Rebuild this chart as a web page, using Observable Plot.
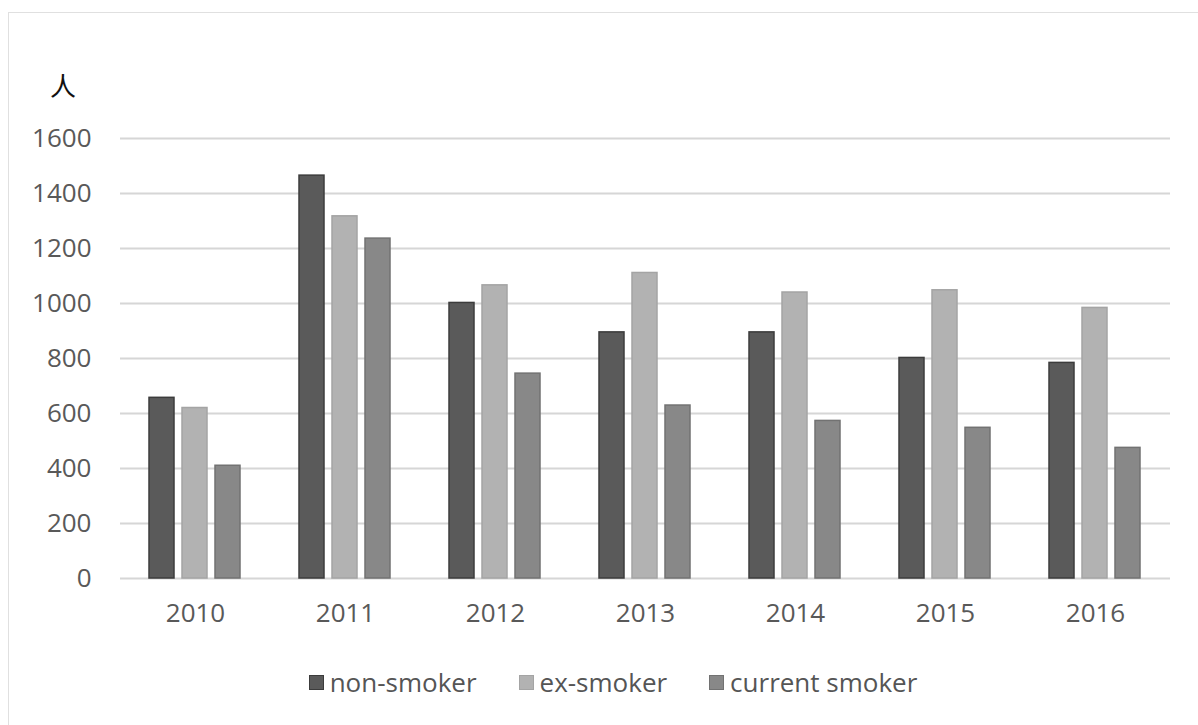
<!DOCTYPE html>
<html>
<head>
<meta charset="utf-8">
<script src="https://cdn.jsdelivr.net/npm/d3@7"></script>
<script src="https://cdn.jsdelivr.net/npm/@observablehq/plot@0.6"></script>
<style>
  html, body { margin: 0; padding: 0; background: #fff; }
  body { width: 1198px; height: 725px; position: relative; overflow: hidden; font-family: "Open Sans", sans-serif; }
  #frame { position: absolute; left: 8px; top: 12px; width: 1200px; height: 720px; border: 1.5px solid #e0e0e0; box-sizing: border-box; }
  #chart { position: absolute; left: 0; top: 0; }
  #unit { position: absolute; left: 50px; top: 72px; font-family: "Noto Sans CJK SC", sans-serif; font-size: 26px; line-height: 1; color: #111; }
  #legend { position: absolute; left: 0; width: 1198px; top: 664px; display: flex; justify-content: center; gap: 42px; font-size: 26px; color: #555; padding-left: 28px; box-sizing: border-box; }
  #legend .item { display: flex; align-items: center; }
  #legend .sw { width: 15px; height: 15px; margin-right: 6px; box-sizing: border-box; }
</style>
</head>
<body>
<div id="frame"></div>
<div id="chart"></div>
<div id="unit">人</div>
<div id="legend"></div>
<script>
const years = ["2010", "2011", "2012", "2013", "2014", "2015", "2016"];
const seriesNames = ["non-smoker", "ex-smoker", "current smoker"];
const nonSmoker = [657, 1465, 1002, 895, 895, 802, 784];
const exSmoker = [620, 1317, 1066, 1111, 1040, 1048, 984];
const currentSmoker = [410, 1236, 745, 629, 573, 548, 475];
const fills = ["#5a5a5a", "#b2b2b2", "#888888"];
const strokes = ["#3c3c3c", "#a4a4a4", "#727272"];
const yTicks = [0, 200, 400, 600, 800, 1000, 1200, 1400, 1600];

const seriesValues = [nonSmoker, exSmoker, currentSmoker];
const data = [];
years.forEach((yr, i) => {
  seriesNames.forEach((s, j) => data.push({year: yr, series: s, value: seriesValues[j][i]}));
});

const W = 1198, H = 640;
const chart = Plot.plot({
  width: W,
  height: H,
  marginTop: 138,
  marginBottom: H - 578,
  marginLeft: 118,
  marginRight: 26,
  style: { fontFamily: "Open Sans, sans-serif", fontSize: "26px", color: "#595959", background: "transparent" },
  fx: { domain: years, paddingInner: 0.373, paddingOuter: 0.187, label: null },
  x: { domain: seriesNames, paddingInner: 0.235, paddingOuter: 0, axis: null },
  y: { domain: [0, 1600], label: null },
  color: { domain: seriesNames, range: fills },
  marks: [
    Plot.ruleY(yTicks, { stroke: "#d6d6d6", strokeWidth: 1.8, insetLeft: -28, insetRight: -28 }),
    Plot.barY(data, {
      fx: "year", x: "series", y: "value",
      fill: "series",
      stroke: d => strokes[seriesNames.indexOf(d.series)],
      strokeWidth: 1.5
    }),
    Plot.axisY({ ticks: yTicks, tickSize: 0, tickPadding: 57, tickFormat: d => String(d), fontSize: "26px", fill: "#595959", label: null }),
    Plot.axisFx({ anchor: "bottom", tickSize: 0, tickPadding: 25, fontSize: "26px", fill: "#595959", label: null })
  ]
});
document.getElementById("chart").appendChild(chart);

const legend = document.getElementById("legend");
seriesNames.forEach((s, j) => {
  const item = document.createElement("div");
  item.className = "item";
  const sw = document.createElement("span");
  sw.className = "sw";
  sw.style.background = fills[j];
  sw.style.border = "1px solid " + strokes[j];
  const t = document.createElement("span");
  t.textContent = s;
  item.appendChild(sw);
  item.appendChild(t);
  legend.appendChild(item);
});
</script>
</body>
</html>
